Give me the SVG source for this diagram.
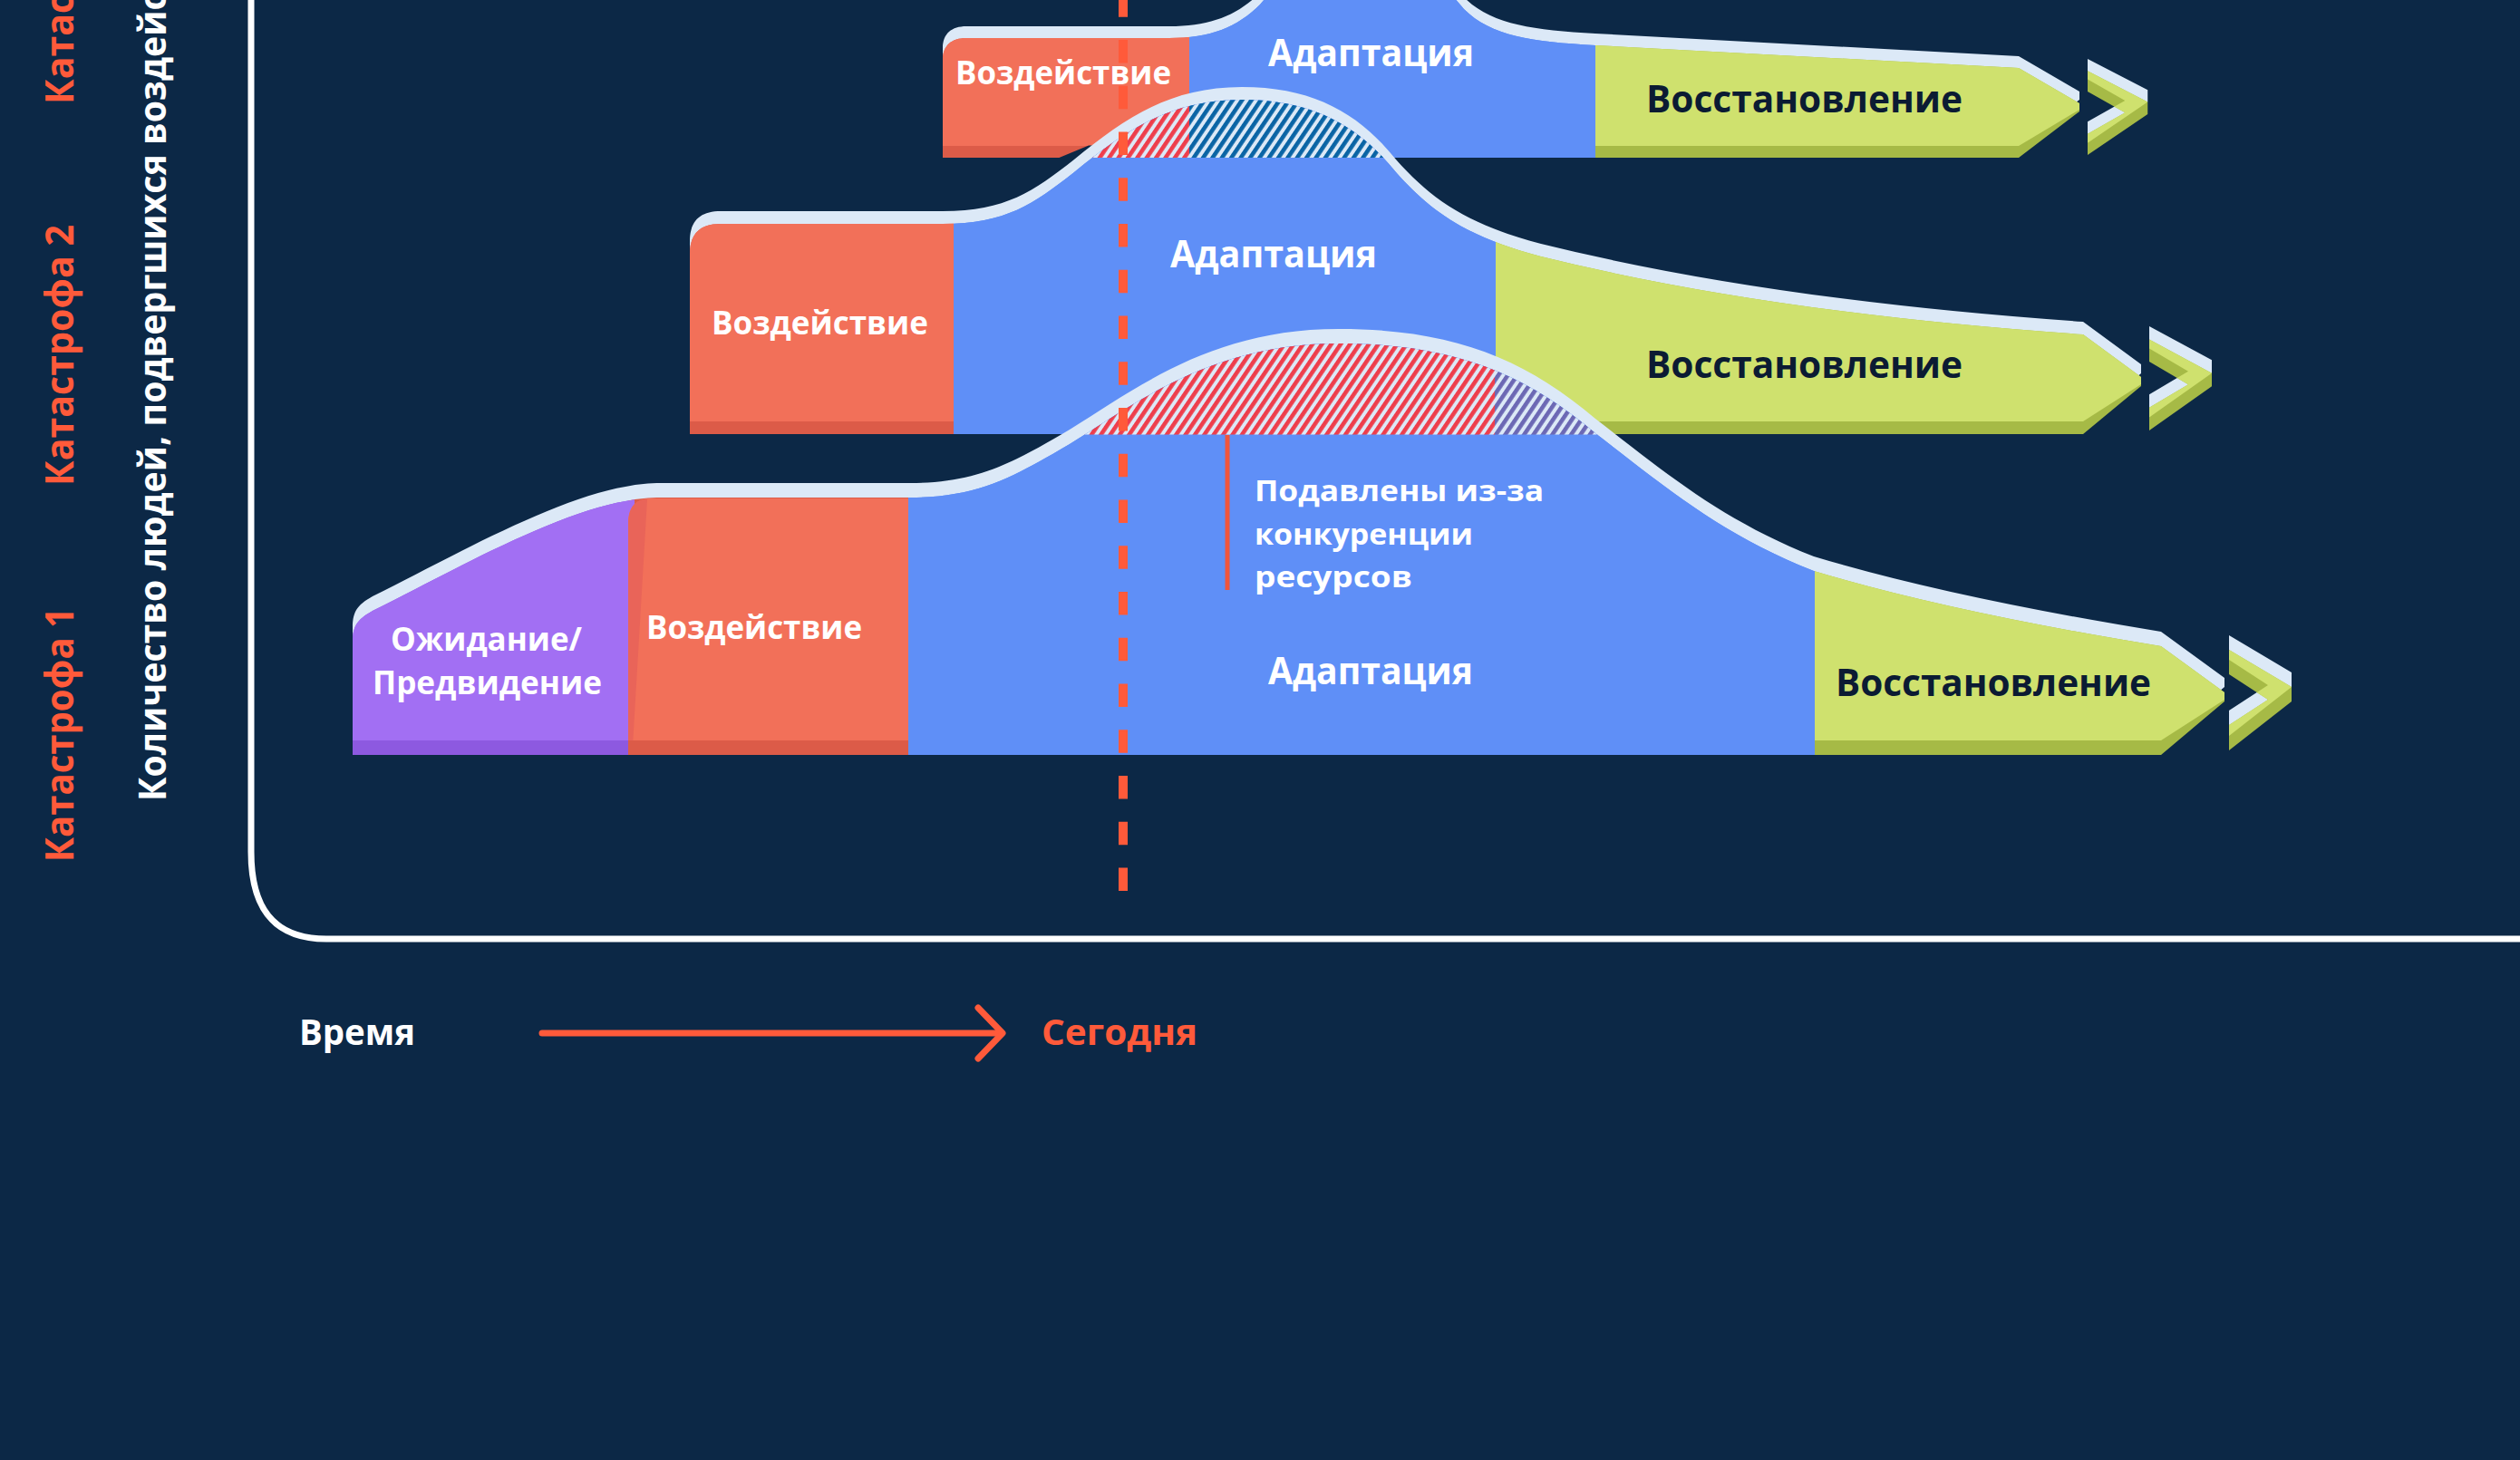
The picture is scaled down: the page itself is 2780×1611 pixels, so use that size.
<svg xmlns="http://www.w3.org/2000/svg" xmlns:xlink="http://www.w3.org/1999/xlink" width="2780" height="1611" viewBox="0 0 2780 1611">
<defs>
<style>
.t{font-family:"Open Sans","Noto Sans","DejaVu Sans",sans-serif;font-weight:700}
.w{fill:#FFFFFF}
.d{fill:#0B1B33;font-weight:700}
.a{fill:#FF5A3A}
.band{fill:#DCE9F7}
.or{fill:#F27059}.ord{fill:#DC5B48}
.bl{fill:#5F8FF7}
.gr{fill:#CFE16E}.grd{fill:#A6BA46}
.pu{fill:#A26FF3}.pud{fill:#8D59E0}
.bg{fill:#0C2846}
</style>
<path id="p3" d="M1040,174 V66 C1040,50 1050,42 1066,42 H1290 C1335,42 1365,30 1390,5 C1415,-25 1450,-60 1500,-60 C1550,-60 1590,-20 1615,10 C1645,40 1690,46 1760,50 L2227,75 L2294,114 L2294,123 L2227,174 Z"/>
<path id="p2" d="M761,479 V280 C761,258 772,247 795,247 H1040 C1110,247 1140,225 1185,190 C1240,145 1290,110 1370,110 C1450,110 1500,140 1540,190 C1580,235 1620,262 1700,283 Q1950,345 2298,369 L2362,416 L2362,426 L2298,479 Z"/>
<path id="p1" d="M389,833 V708 C389,690 395,682 415,672 C480,640 610,566 690,553 C705,550 715,549 730,549 H1004 C1080,549 1120,525 1180,490 C1260,440 1340,379 1477,379 C1600,379 1680,410 1760,478 C1840,540 1900,590 2001,630 Q2150,675 2384,713 L2454,764 L2454,774 L2384,833 Z"/>
<clipPath id="c3"><use xlink:href="#p3"/></clipPath>
<clipPath id="c2"><use xlink:href="#p2"/></clipPath>
<clipPath id="c1"><use xlink:href="#p1"/></clipPath>
<clipPath id="f3"><path d="M1040,161 V66 C1040,50 1050,42 1066,42 H1290 C1335,42 1365,30 1390,5 C1415,-25 1450,-60 1500,-60 C1550,-60 1590,-20 1615,10 C1645,40 1690,46 1760,50 L2227,75 L2294,114 L2294,121 L2227,161 Z"/></clipPath>
<clipPath id="f2"><path d="M761,465 V280 C761,258 772,247 795,247 H1040 C1110,247 1140,225 1185,190 C1240,145 1290,110 1370,110 C1450,110 1500,140 1540,190 C1580,235 1620,262 1700,283 Q1950,345 2298,369 L2362,416 L2362,424 L2298,465 Z"/></clipPath>
<clipPath id="f1"><path d="M389,817 V708 C389,690 395,682 415,672 C480,640 610,566 690,553 C705,550 715,549 730,549 H1004 C1080,549 1120,525 1180,490 C1260,440 1340,379 1477,379 C1600,379 1680,410 1760,478 C1840,540 1900,590 2001,630 Q2150,675 2384,713 L2454,764 L2454,772 L2384,817 Z"/></clipPath>
<path id="chev" d="M0,16 L69,57 L69,73 L0,127 L0,99 L43,71 L0,43 Z"/>
<clipPath id="chevUp"><use xlink:href="#chev" transform="translate(0,-16)"/></clipPath>
<pattern id="hRed" width="8.6" height="20" patternUnits="userSpaceOnUse" patternTransform="rotate(34)"><rect width="8.6" height="20" fill="#DCE9F7"/><rect width="4.6" height="20" fill="#EE3E4C"/></pattern>
<pattern id="hBlue" width="8.6" height="20" patternUnits="userSpaceOnUse" patternTransform="rotate(34)"><rect width="8.6" height="20" fill="#DCE9F7"/><rect width="4.6" height="20" fill="#0A64A5"/></pattern>
<pattern id="hPur" width="8.6" height="20" patternUnits="userSpaceOnUse" patternTransform="rotate(34)"><rect width="8.6" height="20" fill="#DCE9F7"/><rect width="4.6" height="20" fill="#6C68B4"/></pattern>
</defs>

<rect class="bg" x="0" y="0" width="2780" height="1611"/>

<g id="frame">
<path d="M277,-10 V940 C277,1000 300,1036 360,1036 H2790" fill="none" stroke="#FFFFFF" stroke-width="7"/>
</g>

<g id="cat3">
<use xlink:href="#p3" transform="translate(0,-13)" class="band"/>
<g clip-path="url(#c3)">
<rect x="1030" y="-100" width="282" height="300" class="ord"/>
<rect x="1312" y="-100" width="448" height="300" class="bl"/>
<rect x="1760" y="-100" width="600" height="300" class="grd"/>
</g>
<g clip-path="url(#f3)">
<rect x="1030" y="-100" width="282" height="300" class="or"/>
<rect x="1312" y="-100" width="448" height="300" class="bl"/>
<rect x="1760" y="-100" width="600" height="300" class="gr"/>
</g>
<polygon class="bg" points="1166,175 1201,160.5 1250,160.5 1250,175"/>
<g transform="translate(2303,65) scale(0.96,0.835)">
<use xlink:href="#chev" transform="translate(0,-16)" class="band"/>
<use xlink:href="#chev" class="grd"/>
<use xlink:href="#chev" class="gr" clip-path="url(#chevUp)"/>
</g>
</g>

<g id="cat2">
<use xlink:href="#p2" transform="translate(0,-14)" class="band"/>
<g clip-path="url(#c2)">
<rect x="750" y="-100" width="302" height="600" class="ord"/>
<rect x="1052" y="-100" width="598" height="600" class="bl"/>
<rect x="1650" y="-100" width="800" height="600" class="grd"/>
</g>
<g clip-path="url(#f2)">
<rect x="750" y="-100" width="302" height="600" class="or"/>
<rect x="1052" y="-100" width="598" height="600" class="bl"/>
<rect x="1650" y="-100" width="800" height="600" class="gr"/>
<rect x="1000" y="0" width="312" height="174" fill="url(#hRed)"/>
<rect x="1312" y="0" width="500" height="174" fill="url(#hBlue)"/>
</g>
<g transform="translate(2371,360) scale(1,0.906)">
<use xlink:href="#chev" transform="translate(0,-16)" class="band"/>
<use xlink:href="#chev" class="grd"/>
<use xlink:href="#chev" class="gr" clip-path="url(#chevUp)"/>
</g>
</g>

<g id="cat1">
<use xlink:href="#p1" transform="translate(0,-16)" class="band"/>
<g clip-path="url(#c1)">
<rect x="380" y="300" width="313" height="600" class="pud"/>
<rect x="693" y="300" width="309" height="600" class="ord"/>
<rect x="1002" y="300" width="1000" height="600" class="bl"/>
<rect x="2002" y="300" width="600" height="600" class="grd"/>
</g>
<g clip-path="url(#f1)">
<rect x="380" y="300" width="320" height="600" class="pu"/>
<path d="M693,840 V578 C693,561 700,551 716,550 H1002 V840 Z" class="or"/>
<path d="M693,840 V578 C693,561 700,551 714,551 L697,840 Z" fill="#E96459"/>
<rect x="1002" y="300" width="1000" height="600" class="bl"/>
<rect x="2002" y="300" width="600" height="600" class="gr"/>
<rect x="1002" y="300" width="647" height="179.5" fill="url(#hRed)"/>
<rect x="1649" y="300" width="353" height="179.5" fill="url(#hPur)"/>
</g>
<g transform="translate(2459,701)">
<use xlink:href="#chev" transform="translate(0,-16)" class="band"/>
<use xlink:href="#chev" class="grd"/>
<use xlink:href="#chev" class="gr" clip-path="url(#chevUp)"/>
</g>
<rect x="1351.5" y="480" width="5" height="171" fill="#F0553C"/>
</g>

<g id="today-line">
<line x1="1239" y1="-6.75" x2="1239" y2="983" stroke="#FF5A3A" stroke-width="10" stroke-dasharray="25.5 25.25"/>
</g>

<g id="labels">
<text class="t w" x="1054" y="93" font-size="35" textLength="238" lengthAdjust="spacingAndGlyphs">Воздействие</text>
<text class="t w" x="1399" y="73" font-size="42" textLength="227" lengthAdjust="spacingAndGlyphs">Адаптация</text>
<text class="t d" x="1816" y="124" font-size="42" textLength="349" lengthAdjust="spacingAndGlyphs">Восстановление</text>

<text class="t w" x="785" y="369" font-size="36" textLength="239" lengthAdjust="spacingAndGlyphs">Воздействие</text>
<text class="t w" x="1291" y="295" font-size="42" textLength="228" lengthAdjust="spacingAndGlyphs">Адаптация</text>
<text class="t d" x="1816" y="417" font-size="42" textLength="349" lengthAdjust="spacingAndGlyphs">Восстановление</text>

<text class="t w" x="431" y="718" font-size="35" textLength="211" lengthAdjust="spacingAndGlyphs">Ожидание/</text>
<text class="t w" x="411" y="766" font-size="35" textLength="253" lengthAdjust="spacingAndGlyphs">Предвидение</text>
<text class="t w" x="713" y="705" font-size="35" textLength="238" lengthAdjust="spacingAndGlyphs">Воздействие</text>
<text class="t w" x="1399" y="755" font-size="42" textLength="226" lengthAdjust="spacingAndGlyphs">Адаптация</text>
<text class="t d" x="2025" y="768" font-size="42" textLength="348" lengthAdjust="spacingAndGlyphs">Восстановление</text>
<text class="t w" x="1384" y="553" font-size="33" textLength="319" lengthAdjust="spacingAndGlyphs">Подавлены из-за</text>
<text class="t w" x="1384" y="601" font-size="33" textLength="241" lengthAdjust="spacingAndGlyphs">конкуренции</text>
<text class="t w" x="1384" y="648" font-size="33" textLength="174" lengthAdjust="spacingAndGlyphs">ресурсов</text>
</g>

<g id="axis">
<text class="t a" font-size="43" transform="translate(81,951) rotate(-90)" textLength="281" lengthAdjust="spacingAndGlyphs">Катастрофа 1</text>
<text class="t a" font-size="43" transform="translate(81,536) rotate(-90)" textLength="288" lengthAdjust="spacingAndGlyphs">Катастрофа 2</text>
<text class="t a" font-size="43" transform="translate(81,115) rotate(-90)" textLength="288" lengthAdjust="spacingAndGlyphs">Катастрофа 3</text>
<text class="t w" font-size="42" transform="translate(183,884) rotate(-90)" textLength="1002" lengthAdjust="spacingAndGlyphs">Количество людей, подвергшихся воздействию</text>
<text class="t w" x="330" y="1153" font-size="40" textLength="128" lengthAdjust="spacingAndGlyphs">Время</text>
<line x1="598" y1="1140" x2="1104" y2="1140" stroke="#FF5A3A" stroke-width="7" stroke-linecap="round"/>
<polyline points="1079,1112 1106,1140 1079,1168" fill="none" stroke="#FF5A3A" stroke-width="7" stroke-linecap="round" stroke-linejoin="round"/>
<text class="t a" x="1149" y="1153" font-size="40" textLength="172" lengthAdjust="spacingAndGlyphs">Сегодня</text>
</g>
</svg>
